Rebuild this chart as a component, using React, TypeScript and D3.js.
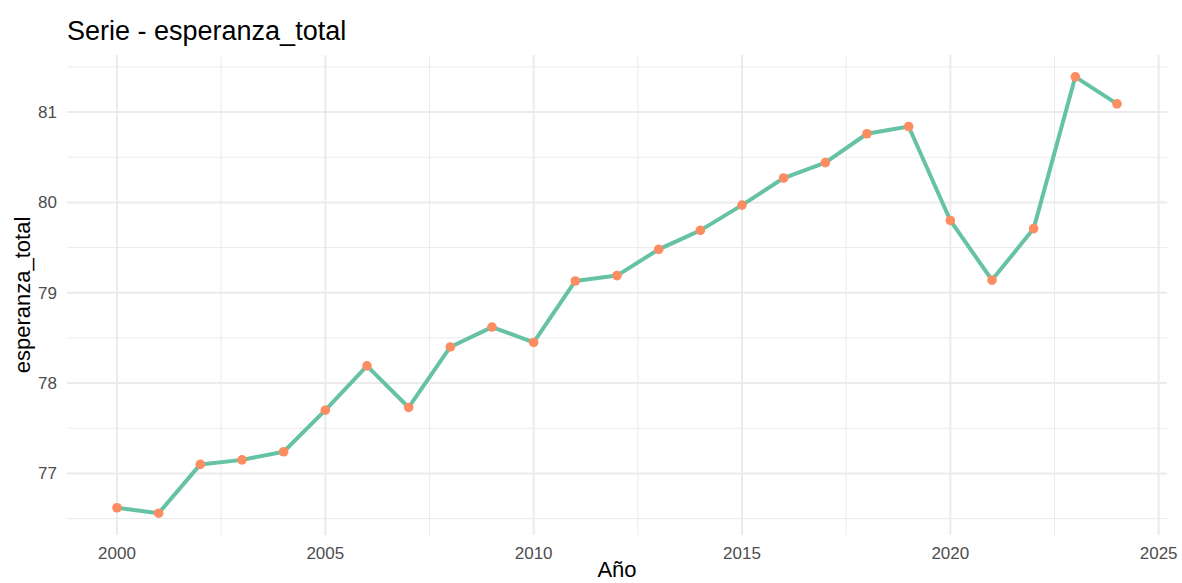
import React from 'react';
import * as d3 from 'd3';

const years = [2000, 2001, 2002, 2003, 2004, 2005, 2006, 2007, 2008, 2009, 2010, 2011, 2012,
    2013, 2014, 2015, 2016, 2017, 2018, 2019, 2020, 2021, 2022, 2023, 2024];
const esperanza = [76.62, 76.56, 77.10, 77.15, 77.24, 77.70, 78.19, 77.73, 78.40, 78.62, 78.45,
    79.13, 79.19, 79.48, 79.69, 79.97, 80.27, 80.44, 80.76, 80.84, 79.80, 79.14, 79.71, 81.39, 81.09];
const xTicks = [2000, 2005, 2010, 2015, 2020, 2025];
const yTicks = [77, 78, 79, 80, 81];

const W = 1182;
const H = 583;
const font = "'Liberation Sans', Arial, sans-serif";

function App() {
    const data = years.map((y, i) => ({ year: y, value: esperanza[i] }));

    const [x0, x1] = d3.extent(years) as [number, number];
    const [y0, y1] = d3.extent(esperanza) as [number, number];
    const xPad = (x1 - x0) * 0.05;
    const yPad = (y1 - y0) * 0.05;

    const xScale = d3.scaleLinear().domain([x0 - xPad, x1 + xPad]).range([67, 1167]);
    const yScale = d3.scaleLinear().domain([y0 - yPad, y1 + yPad]).range([535, 55]);

    const xMinor = xTicks.slice(0, -1).map(t => t + 2.5);
    const yMinor = [76.5, ...yTicks.map(t => t + 0.5)];

    const line = d3.line<{ year: number; value: number }>()
        .x(d => xScale(d.year))
        .y(d => yScale(d.value));

    const [top, bottom] = [55, 535];

    return (
        <svg width={W} height={H} style={{ position: 'absolute', left: 0, top: 0, background: '#fff' }}>
            <g stroke="#ebebeb" fill="none">
                {yMinor.map((t, i) => (
                    <line key={'ym' + i} x1={67} x2={1167} y1={yScale(t)} y2={yScale(t)} strokeWidth={1} />
                ))}
                {xMinor.map((t, i) => (
                    <line key={'xm' + i} x1={xScale(t)} x2={xScale(t)} y1={top} y2={bottom} strokeWidth={1} />
                ))}
                {yTicks.map((t, i) => (
                    <line key={'y' + i} x1={67} x2={1167} y1={yScale(t)} y2={yScale(t)} strokeWidth={2} />
                ))}
                {xTicks.map((t, i) => (
                    <line key={'x' + i} x1={xScale(t)} x2={xScale(t)} y1={top} y2={bottom} strokeWidth={2} />
                ))}
            </g>
            <path d={line(data) || ''} fill="none" stroke="#66C2A5" strokeWidth={4} strokeLinejoin="round" />
            {data.map((d, i) => (
                <circle key={i} cx={xScale(d.year)} cy={yScale(d.value)} r={4.8} fill="#FC8D62" />
            ))}
            {yTicks.map((t, i) => (
                <text key={i} x={57} y={yScale(t)} dy="0.35em" textAnchor="end"
                    style={{ fontFamily: font, fontSize: '17px' }} fill="#4d4d4d">{t}</text>
            ))}
            {xTicks.map((t, i) => (
                <text key={i} x={xScale(t)} y={559} textAnchor="middle"
                    style={{ fontFamily: font, fontSize: '17px' }} fill="#4d4d4d">{t}</text>
            ))}
            <text x={617} y={577} textAnchor="middle" style={{ fontFamily: font, fontSize: '22px' }} fill="#000">Año</text>
            <text transform={`translate(30, ${(top + bottom) / 2}) rotate(-90)`} textAnchor="middle"
                style={{ fontFamily: font, fontSize: '22px' }} fill="#000">esperanza_total</text>
            <text x={67} y={40} style={{ fontFamily: font, fontSize: '27px' }} fill="#000">Serie - esperanza_total</text>
        </svg>
    );
}

export default App;
